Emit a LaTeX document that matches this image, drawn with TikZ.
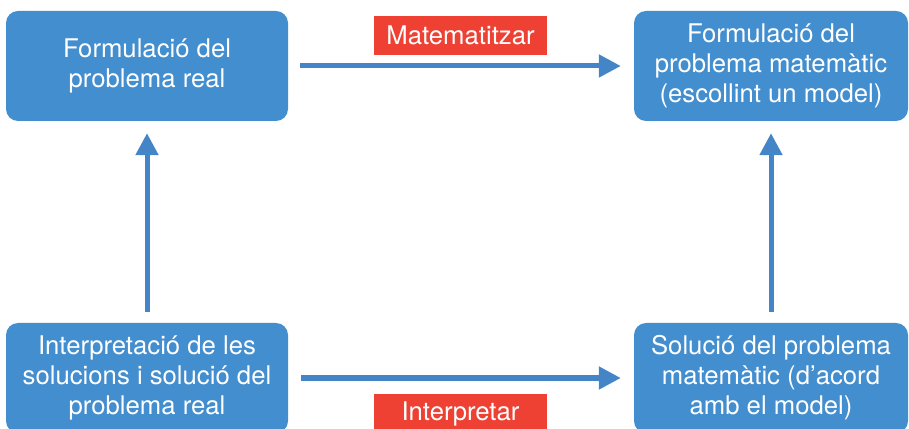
\documentclass[tikz,border=0pt]{standalone}
\usepackage{fontspec}
\setmainfont{TeX Gyre Heros}
\usetikzlibrary{arrows.meta}

\definecolor{boxblue}{RGB}{67,142,207}
\definecolor{arrowblue}{RGB}{68,133,199}
\definecolor{labelred}{RGB}{238,65,52}

\begin{document}
\begin{tikzpicture}[x = 1pt, y = 1pt,
    stage/.style = {fill = boxblue, rounded corners = 12pt, text = white, align = center, inner sep = 0pt, minimum height = 110pt, font = \fontsize{25.7}{30}\selectfont},
    tag/.style = {fill = labelred, text = white, minimum width = 173pt, minimum height = 39pt, inner sep = 0pt, font = \fontsize{25.7}{30}\selectfont},
    flow/.style = {draw = arrowblue, line width = 5pt, -{Triangle[length = 22pt, width = 22pt]}}]
    \useasboundingbox (0, 0) rectangle (909, 428);

    % the four stages
    \node[stage, minimum width = 282pt] (real) at (147, 362) {Formulació del\\problema real};
    \node[stage, minimum width = 274pt] (model) at (771, 362) {Formulació del\\problema matemàtic\\(escollint un model)};
    \node[stage, minimum width = 282pt] (interp) at (147, 50) {Interpretació de les\\solucions i solució del\\problema real};
    \node[stage, minimum width = 274pt] (sol) at (771, 50) {Solució del problema\\matemàtic (d’acord\\amb el model)};

    % connectors
    \draw[flow, shorten < = 12pt, shorten > = 13pt] (real) -- (model);
    \draw[flow, shorten < = 13pt, shorten > = 13pt] (interp) -- (sol);
    \draw[flow, shorten < = 11pt, shorten > = 12pt] (interp) -- (real);
    \draw[flow, shorten < = 11pt, shorten > = 12pt] (sol) -- (model);

    % labels
    \node[tag] (mathz) at (460.5, 392.5) {Matematitzar};
    \node[tag] (interpz) at (460.5, 14.5) {Interpretar};
\end{tikzpicture}
\end{document}
